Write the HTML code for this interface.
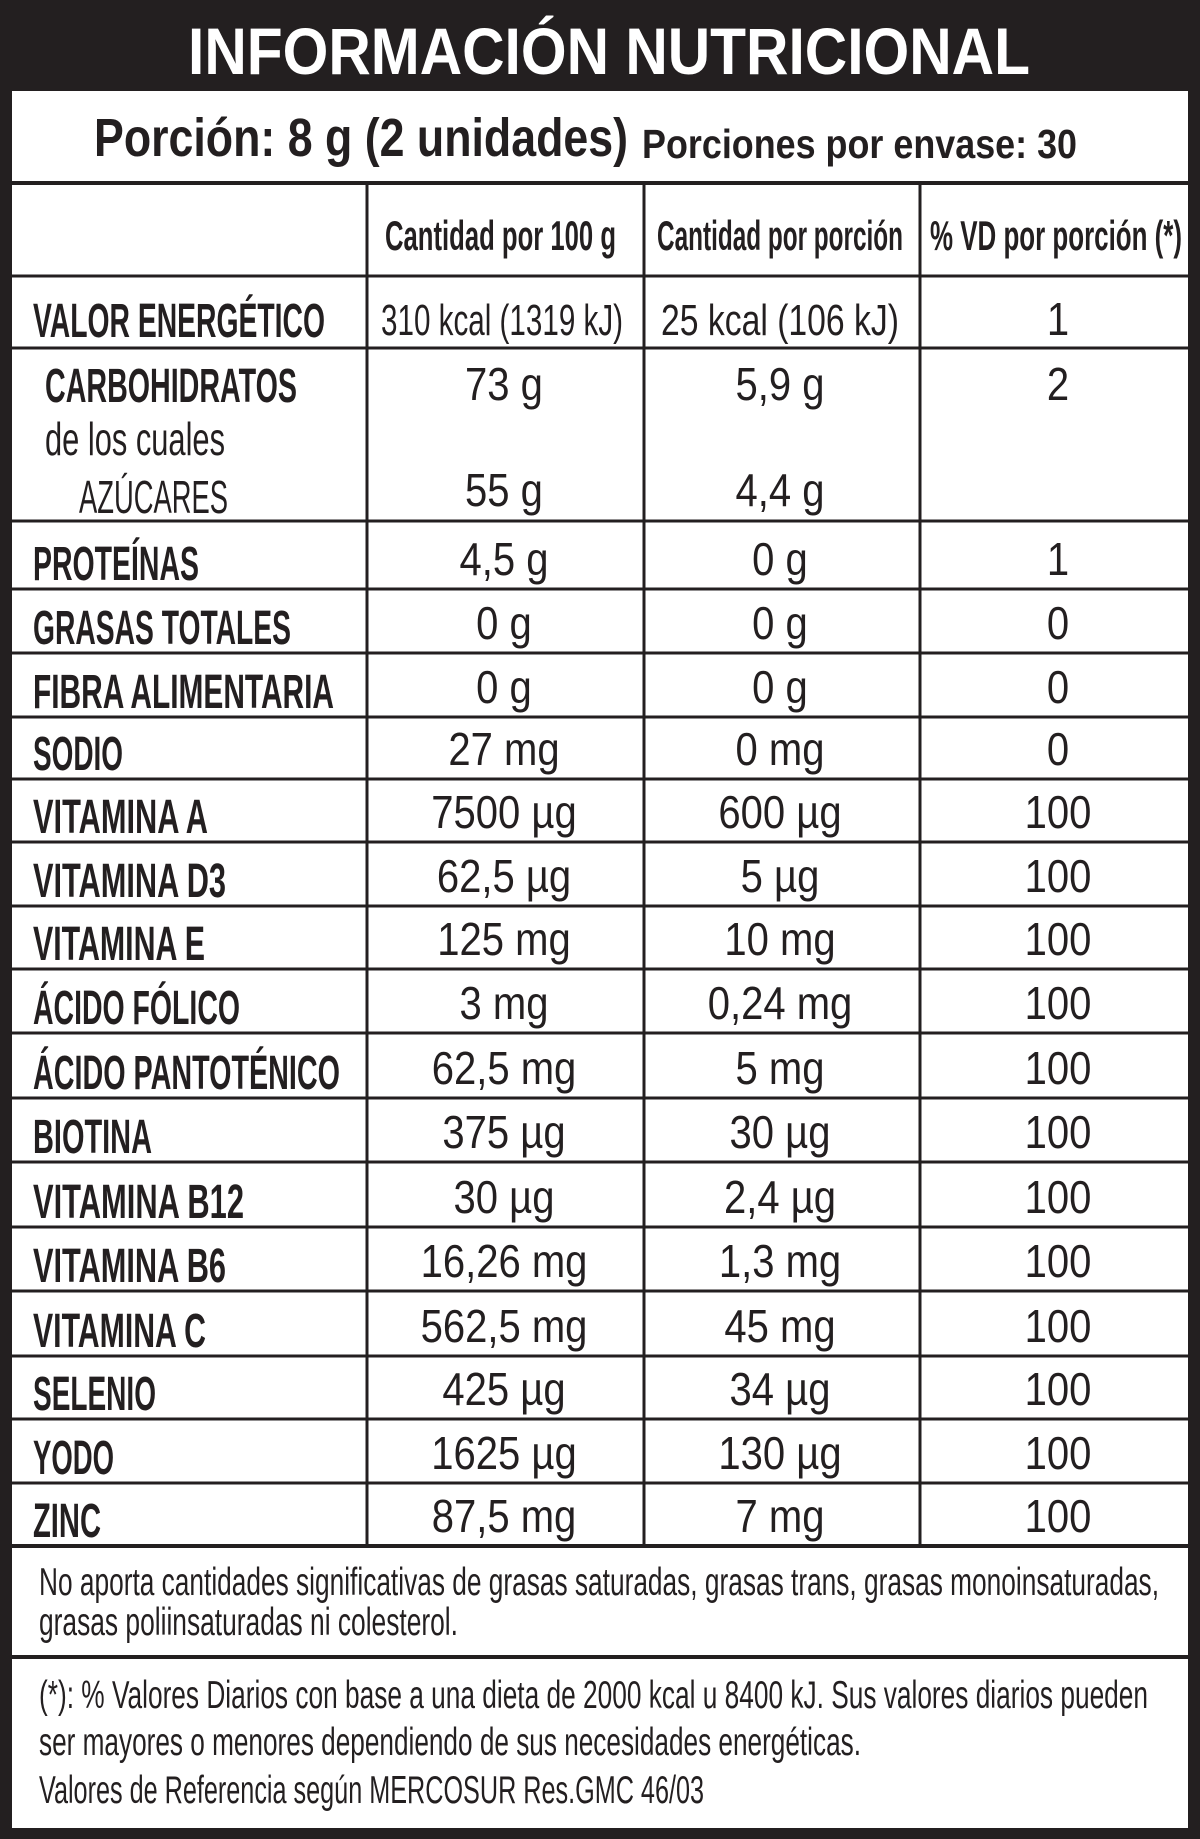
<!DOCTYPE html>
<html><head><meta charset="utf-8"><style>html,body{margin:0;padding:0;background:#231f20}svg{display:block}</style></head>
<body>
<svg xmlns="http://www.w3.org/2000/svg" width="1200" height="1839" viewBox="0 0 1200 1839">
<rect width="1200" height="1839" fill="#231f20"/>
<rect x="12" y="91" width="1176" height="1737" fill="#fff"/>
<g font-family="Liberation Sans, sans-serif" fill="#231f20">
<text x="188" y="74" font-size="66" font-weight="bold" fill="#fff" textLength="842" lengthAdjust="spacingAndGlyphs">INFORMACIÓN NUTRICIONAL</text>
<text x="94" y="156" font-size="54" font-weight="bold" textLength="534" lengthAdjust="spacingAndGlyphs">Porción: 8 g (2 unidades)</text>
<text x="642" y="158" font-size="41" font-weight="bold" textLength="435" lengthAdjust="spacingAndGlyphs">Porciones por envase: 30</text>
<text x="385" y="250" font-size="42" font-weight="bold" textLength="231" lengthAdjust="spacingAndGlyphs">Cantidad por 100 g</text>
<text x="657" y="250" font-size="42" font-weight="bold" textLength="246" lengthAdjust="spacingAndGlyphs">Cantidad por porción</text>
<text x="930" y="250" font-size="42" font-weight="bold" textLength="252" lengthAdjust="spacingAndGlyphs">% VD  por porción (*)</text>
</g>
<g stroke="#231f20" stroke-width="3">
<line x1="12" y1="183" x2="1188" y2="183" stroke-width="4"/>
<line x1="12" y1="276" x2="1188" y2="276"/>
<line x1="12" y1="348" x2="1188" y2="348"/>
<line x1="12" y1="521" x2="1188" y2="521"/>
<line x1="12" y1="589" x2="1188" y2="589"/>
<line x1="12" y1="653" x2="1188" y2="653"/>
<line x1="12" y1="717" x2="1188" y2="717"/>
<line x1="12" y1="779" x2="1188" y2="779"/>
<line x1="12" y1="842" x2="1188" y2="842"/>
<line x1="12" y1="906" x2="1188" y2="906"/>
<line x1="12" y1="969" x2="1188" y2="969"/>
<line x1="12" y1="1033" x2="1188" y2="1033"/>
<line x1="12" y1="1098" x2="1188" y2="1098"/>
<line x1="12" y1="1162" x2="1188" y2="1162"/>
<line x1="12" y1="1227" x2="1188" y2="1227"/>
<line x1="12" y1="1291" x2="1188" y2="1291"/>
<line x1="12" y1="1356" x2="1188" y2="1356"/>
<line x1="12" y1="1419" x2="1188" y2="1419"/>
<line x1="12" y1="1483" x2="1188" y2="1483"/>
<line x1="12" y1="1546" x2="1188" y2="1546" stroke-width="4"/>
<line x1="12" y1="1657" x2="1188" y2="1657" stroke-width="4"/>
<line x1="367" y1="183" x2="367" y2="1546"/>
<line x1="644" y1="183" x2="644" y2="1546"/>
<line x1="920" y1="183" x2="920" y2="1546"/>
</g>
<g font-family="Liberation Sans, sans-serif" font-weight="bold" font-size="48" fill="#231f20" lengthAdjust="spacingAndGlyphs">
<text x="33" y="337" textLength="292" lengthAdjust="spacingAndGlyphs">VALOR ENERGÉTICO</text>
<text x="45" y="402" textLength="252" lengthAdjust="spacingAndGlyphs">CARBOHIDRATOS</text>
<text x="33" y="580" textLength="166" lengthAdjust="spacingAndGlyphs">PROTEÍNAS</text>
<text x="33" y="644" textLength="258" lengthAdjust="spacingAndGlyphs">GRASAS TOTALES</text>
<text x="33" y="708" textLength="301" lengthAdjust="spacingAndGlyphs">FIBRA ALIMENTARIA</text>
<text x="33" y="770" textLength="90" lengthAdjust="spacingAndGlyphs">SODIO</text>
<text x="33" y="833" textLength="175" lengthAdjust="spacingAndGlyphs">VITAMINA A</text>
<text x="33" y="897" textLength="193" lengthAdjust="spacingAndGlyphs">VITAMINA D3</text>
<text x="33" y="960" textLength="172" lengthAdjust="spacingAndGlyphs">VITAMINA E</text>
<text x="33" y="1024" textLength="207" lengthAdjust="spacingAndGlyphs">ÁCIDO FÓLICO</text>
<text x="33" y="1089" textLength="307" lengthAdjust="spacingAndGlyphs">ÁCIDO PANTOTÉNICO</text>
<text x="33" y="1153" textLength="119" lengthAdjust="spacingAndGlyphs">BIOTINA</text>
<text x="33" y="1218" textLength="211" lengthAdjust="spacingAndGlyphs">VITAMINA B12</text>
<text x="33" y="1282" textLength="193" lengthAdjust="spacingAndGlyphs">VITAMINA B6</text>
<text x="33" y="1347" textLength="173" lengthAdjust="spacingAndGlyphs">VITAMINA C</text>
<text x="33" y="1410" textLength="123" lengthAdjust="spacingAndGlyphs">SELENIO</text>
<text x="33" y="1474" textLength="81" lengthAdjust="spacingAndGlyphs">YODO</text>
<text x="33" y="1537" textLength="68" lengthAdjust="spacingAndGlyphs">ZINC</text>
</g>
<g font-family="Liberation Sans, sans-serif" font-size="46" fill="#231f20">
<text x="45" y="455" textLength="180" lengthAdjust="spacingAndGlyphs">de los cuales</text>
<text x="79" y="513" textLength="149" lengthAdjust="spacingAndGlyphs">AZÚCARES</text>
<text x="381" y="335" font-size="44" textLength="242" lengthAdjust="spacingAndGlyphs">310 kcal (1319 kJ)</text>
<text x="661" y="335" font-size="44" textLength="238" lengthAdjust="spacingAndGlyphs">25 kcal (106 kJ)</text>
</g>
<g font-family="Liberation Sans, sans-serif" font-size="46" fill="#231f20" text-anchor="middle">
<text transform="translate(1058,335) scale(0.87,1)">1</text>
<text transform="translate(504,400) scale(0.87,1)">73 g</text>
<text transform="translate(780,400) scale(0.87,1)">5,9 g</text>
<text transform="translate(1058,400) scale(0.87,1)">2</text>
<text transform="translate(504,506) scale(0.87,1)">55 g</text>
<text transform="translate(780,506) scale(0.87,1)">4,4 g</text>
<text transform="translate(504,575) scale(0.87,1)">4,5 g</text><text transform="translate(780,575) scale(0.87,1)">0 g</text><text transform="translate(1058,575) scale(0.87,1)">1</text>
<text transform="translate(504,639) scale(0.87,1)">0 g</text><text transform="translate(780,639) scale(0.87,1)">0 g</text><text transform="translate(1058,639) scale(0.87,1)">0</text>
<text transform="translate(504,703) scale(0.87,1)">0 g</text><text transform="translate(780,703) scale(0.87,1)">0 g</text><text transform="translate(1058,703) scale(0.87,1)">0</text>
<text transform="translate(504,765) scale(0.87,1)">27 mg</text><text transform="translate(780,765) scale(0.87,1)">0 mg</text><text transform="translate(1058,765) scale(0.87,1)">0</text>
<text transform="translate(504,828) scale(0.87,1)">7500 µg</text><text transform="translate(780,828) scale(0.87,1)">600 µg</text><text transform="translate(1058,828) scale(0.87,1)">100</text>
<text transform="translate(504,892) scale(0.87,1)">62,5 µg</text><text transform="translate(780,892) scale(0.87,1)">5 µg</text><text transform="translate(1058,892) scale(0.87,1)">100</text>
<text transform="translate(504,955) scale(0.87,1)">125 mg</text><text transform="translate(780,955) scale(0.87,1)">10 mg</text><text transform="translate(1058,955) scale(0.87,1)">100</text>
<text transform="translate(504,1019) scale(0.87,1)">3 mg</text><text transform="translate(780,1019) scale(0.87,1)">0,24 mg</text><text transform="translate(1058,1019) scale(0.87,1)">100</text>
<text transform="translate(504,1084) scale(0.87,1)">62,5 mg</text><text transform="translate(780,1084) scale(0.87,1)">5 mg</text><text transform="translate(1058,1084) scale(0.87,1)">100</text>
<text transform="translate(504,1148) scale(0.87,1)">375 µg</text><text transform="translate(780,1148) scale(0.87,1)">30 µg</text><text transform="translate(1058,1148) scale(0.87,1)">100</text>
<text transform="translate(504,1213) scale(0.87,1)">30 µg</text><text transform="translate(780,1213) scale(0.87,1)">2,4 µg</text><text transform="translate(1058,1213) scale(0.87,1)">100</text>
<text transform="translate(504,1277) scale(0.87,1)">16,26 mg</text><text transform="translate(780,1277) scale(0.87,1)">1,3 mg</text><text transform="translate(1058,1277) scale(0.87,1)">100</text>
<text transform="translate(504,1342) scale(0.87,1)">562,5 mg</text><text transform="translate(780,1342) scale(0.87,1)">45 mg</text><text transform="translate(1058,1342) scale(0.87,1)">100</text>
<text transform="translate(504,1405) scale(0.87,1)">425 µg</text><text transform="translate(780,1405) scale(0.87,1)">34 µg</text><text transform="translate(1058,1405) scale(0.87,1)">100</text>
<text transform="translate(504,1469) scale(0.87,1)">1625 µg</text><text transform="translate(780,1469) scale(0.87,1)">130 µg</text><text transform="translate(1058,1469) scale(0.87,1)">100</text>
<text transform="translate(504,1532) scale(0.87,1)">87,5 mg</text><text transform="translate(780,1532) scale(0.87,1)">7 mg</text><text transform="translate(1058,1532) scale(0.87,1)">100</text>
</g>
<g font-family="Liberation Sans, sans-serif" font-size="39" fill="#231f20">
<text x="39" y="1595" textLength="1120" lengthAdjust="spacingAndGlyphs">No aporta cantidades significativas de grasas saturadas, grasas trans, grasas monoinsaturadas,</text>
<text x="39" y="1635" textLength="419" lengthAdjust="spacingAndGlyphs">grasas poliinsaturadas ni colesterol.</text>
<text x="39" y="1708" textLength="1109" lengthAdjust="spacingAndGlyphs">(*): % Valores Diarios con base a una dieta de 2000 kcal u 8400 kJ. Sus valores diarios pueden</text>
<text x="39" y="1755" textLength="822" lengthAdjust="spacingAndGlyphs">ser mayores o menores dependiendo de sus necesidades energéticas.</text>
<text x="39" y="1803" textLength="665" lengthAdjust="spacingAndGlyphs">Valores de Referencia según MERCOSUR Res.GMC 46/03</text>
</g>
</svg>
</body></html>
